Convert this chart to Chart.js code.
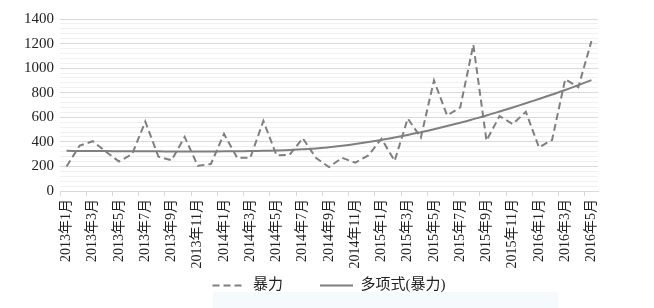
<!DOCTYPE html>
<html>
<head>
<meta charset="utf-8">
<script src="https://cdn.jsdelivr.net/npm/chart.js@4.4.1/dist/chart.umd.min.js"></script>
<style>
  body { margin: 0; background: #fff; }
  #wrap { position: relative; width: 654px; height: 308px; }
  #band { position: absolute; left: 213px; top: 292px; width: 345px; height: 16px; background: #f5fafd; }
  #c { position: absolute; left: 0; top: 0; }
</style>
</head>
<body>
<div id="wrap">
  <div id="band"></div>
  <canvas id="c" width="654" height="308"></canvas>
</div>
<script>
// months 2013年1月 .. 2016年5月
var meses = [
    "2013年1月", "2013年2月", "2013年3月", "2013年4月", "2013年5月", "2013年6月",
    "2013年7月", "2013年8月", "2013年9月", "2013年10月", "2013年11月", "2013年12月",
    "2014年1月", "2014年2月", "2014年3月", "2014年4月", "2014年5月", "2014年6月",
    "2014年7月", "2014年8月", "2014年9月", "2014年10月", "2014年11月", "2014年12月",
    "2015年1月", "2015年2月", "2015年3月", "2015年4月", "2015年5月", "2015年6月",
    "2015年7月", "2015年8月", "2015年9月", "2015年10月", "2015年11月", "2015年12月",
    "2016年1月", "2016年2月", "2016年3月", "2016年4月", "2016年5月"
];

// 暴力
var violencia = [
    200, 370, 405, 320, 240, 300, 565, 280, 250, 440, 205, 220,
    465, 270, 270, 570, 290, 295, 430, 270, 195, 270, 230, 290,
    425, 245, 590, 435, 900, 615, 680, 1190, 410, 610, 545, 645,
    355, 415, 910, 845, 1220
];

// 多项式(暴力) - trend line
var tendencia = [
    327, 326, 325, 325, 324, 324, 323, 323, 322, 322, 322, 322,
    323, 324, 325, 327, 330, 334, 340, 346, 356, 368, 382, 398,
    416, 435, 456, 479, 503, 529, 556, 585, 615, 647, 680, 714,
    749, 785, 822, 862, 903
];

var yMax = 1400;
var yPasso = 40;
var yRotulo = 200;

var fonte = "'Liberation Serif', 'Noto Sans CJK SC', serif";
var cinza = "#7f7f7f";

new Chart(document.getElementById("c"), {
    type: 'line',
    data: {
        labels: meses,
        datasets: [
            {
                label: "暴力",
                data: violencia,
                borderColor: cinza,
                backgroundColor: cinza,
                borderWidth: 2,
                borderDash: [7, 4],
                pointRadius: 0,
                tension: 0,
                fill: false
            }, {
                label: "多项式(暴力)",
                data: tendencia,
                borderColor: cinza,
                backgroundColor: cinza,
                borderWidth: 2,
                borderDash: [],
                pointRadius: 0,
                tension: 0.4,
                fill: false
            }
        ]
    },
    options: {
        responsive: false,
        animation: false,
        layout: {
            padding: { left: 0, right: 56, top: 19, bottom: 5 }
        },
        plugins: {
            tooltip: { enabled: false },
            legend: {
                position: 'bottom',
                fullSize: false,
                labels: {
                    usePointStyle: true,
                    pointStyle: 'line',
                    pointStyleWidth: 33,
                    padding: 7,
                    color: '#222',
                    font: { family: fonte, size: 15 },
                    generateLabels: function (chart) {
                        var itens = Chart.defaults.plugins.legend.labels.generateLabels(chart);
                        itens.forEach(function (item, i) {
                            item.lineDash = chart.data.datasets[i].borderDash;
                            item.lineWidth = 2;
                            item.strokeStyle = cinza;
                        });
                        // espaço entre as duas entradas
                        itens[0].text = itens[0].text + '\u3000\u3000';
                        return itens;
                    }
                }
            }
        },
        scales: {
            x: {
                offset: true,
                grid: {
                    offset: true,
                    drawOnChartArea: false,
                    tickLength: 5,
                    color: function (ctx) {
                        return (ctx.index !== undefined && ctx.index % 2 === 0) ? '#d9d9d9' : 'rgba(0,0,0,0)';
                    }
                },
                border: { display: true, color: '#d9d9d9' },
                ticks: {
                    autoSkip: false,
                    maxRotation: 90,
                    minRotation: 90,
                    padding: 3,
                    color: '#222',
                    font: { family: fonte, size: 14 },
                    callback: function (v, i) {
                        return i % 2 === 0 ? this.getLabelForValue(v) : '';
                    }
                },
                afterFit: function (s) { s.height = 80; }
            },
            y: {
                min: 0,
                max: yMax,
                border: { display: false },
                grid: {
                    drawTicks: false,
                    color: function (ctx) {
                        return ctx.tick && ctx.tick.value % yRotulo === 0 ? '#d9d9d9' : '#f0f0f0';
                    }
                },
                ticks: {
                    stepSize: yPasso,
                    autoSkip: false,
                    padding: 6,
                    color: '#222',
                    font: { family: fonte, size: 15 },
                    callback: function (v) {
                        return v % yRotulo === 0 ? v : '';
                    }
                },
                afterFit: function (s) { s.width = 60; }
            }
        }
    }
});
</script>
</body>
</html>
